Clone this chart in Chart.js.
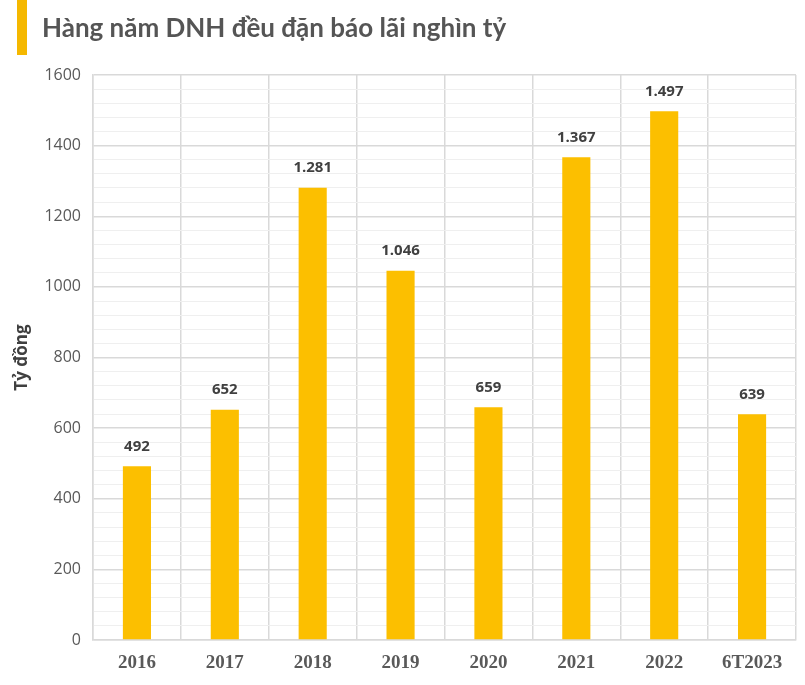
<!DOCTYPE html>
<html>
<head>
<meta charset="utf-8">
<script src="https://cdn.jsdelivr.net/npm/chart.js@4"></script>
<style>
  html, body { margin: 0; padding: 0; background: #fff; }
  #wrap { width: 805px; height: 685px; position: relative; }
</style>
</head>
<body>
<div id="wrap"><canvas id="chart"></canvas></div>
<script>
const categories = ['2016', '2017', '2018', '2019', '2020', '2021', '2022', '6T2023'];
const profits = [492, 652, 1281, 1046, 659, 1367, 1497, 639];
const valueLabels = ['492', '652', '1.281', '1.046', '659', '1.367', '1.497', '639'];
const titleText = 'Hàng năm DNH đều đặn báo lãi nghìn tỷ';
const yAxisTitle = 'Tỷ đồng';

// title text plus the yellow marker at the left
const headerPlugin = {
    id: 'header',
    beforeDraw(chart) {
        const ctx = chart.ctx;
        ctx.save();
        ctx.fillStyle = '#f5b800';
        ctx.fillRect(17, 0, 10, 55);
        ctx.fillStyle = '#555555';
        ctx.font = 'bold 26px Lato, "Open Sans", sans-serif';
        ctx.textBaseline = 'alphabetic';
        ctx.fillText(titleText, 42, 37);
        ctx.restore();
    }
};

// numbers above each bar
const valueLabelPlugin = {
    id: 'valueLabels',
    afterDatasetsDraw(chart) {
        const ctx = chart.ctx;
        const meta = chart.getDatasetMeta(0);
        ctx.save();
        ctx.fillStyle = '#404040';
        ctx.font = 'bold 15px "Open Sans", sans-serif';
        ctx.textAlign = 'center';
        ctx.textBaseline = 'middle';
        meta.data.forEach((bar, i) => {
            ctx.fillText(valueLabels[i], bar.x, bar.y - 20);
        });
        ctx.restore();
    }
};

const ctx = document.getElementById('chart').getContext('2d');
new Chart(ctx, {
    type: 'bar',
    data: {
        labels: categories,
        datasets: [{
            data: profits,
            backgroundColor: '#fcbf00',
            borderWidth: 0,
            barPercentage: 0.32,
            categoryPercentage: 1
        }]
    },
    options: {
        responsive: true,
        maintainAspectRatio: false,
        animation: false,
        layout: { padding: { left: 0, top: 75, right: 9, bottom: 0 } },
        plugins: {
            legend: { display: false },
            tooltip: { enabled: false }
        },
        scales: {
            x: {
                offset: true,
                grid: { offset: true, color: '#d9d9d9', lineWidth: 1.5, drawTicks: false },
                border: { color: '#d9d9d9', width: 1.5 },
                ticks: {
                    color: '#595959',
                    font: { family: '"Liberation Serif", serif', size: 19, weight: 'bold' },
                    padding: 12
                },
                afterFit(scale) { scale.height = 45; }
            },
            y: {
                min: 0,
                max: 1600,
                ticks: {
                    stepSize: 40,
                    autoSkip: false,
                    color: '#595959',
                    font: { family: '"Open Sans", sans-serif', size: 16 },
                    padding: 12,
                    callback: v => (v % 200 === 0 ? v : '')
                },
                grid: {
                    drawTicks: false,
                    color: c => (c.tick && c.tick.value % 200 === 0 ? '#d9d9d9' : '#efefef'),
                    lineWidth: c => (c.tick && c.tick.value % 200 === 0 ? 1.5 : 1)
                },
                border: { color: '#d9d9d9', width: 1.5 },
                title: {
                    display: true,
                    text: yAxisTitle,
                    color: '#404040',
                    font: { family: '"Open Sans", sans-serif', size: 17, weight: 'bold' },
                    padding: { top: 12, bottom: 0 }
                },
                afterFit(scale) { scale.width = 93; }
            }
        }
    },
    plugins: [headerPlugin, valueLabelPlugin]
});
</script>
</body>
</html>
